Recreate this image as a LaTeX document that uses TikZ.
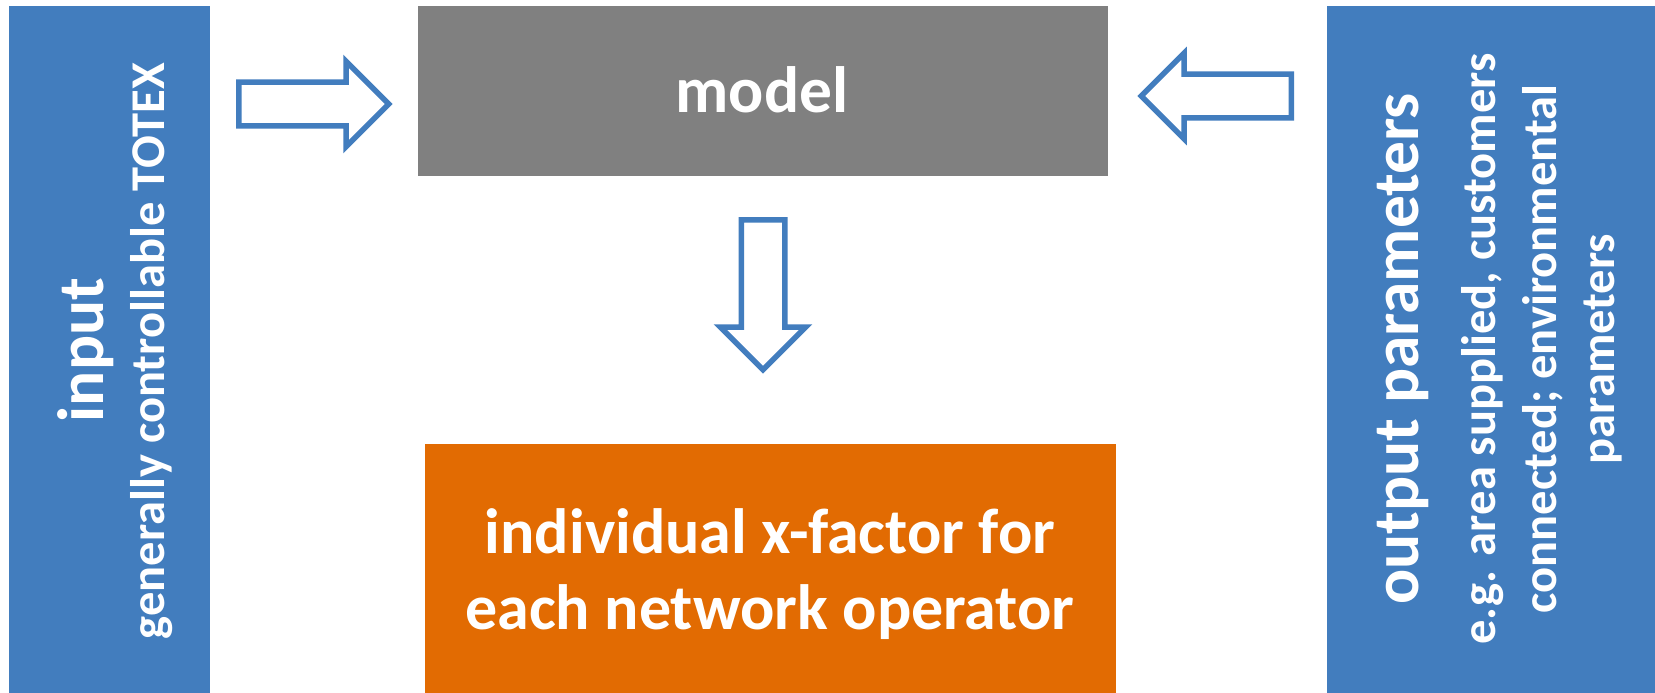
\documentclass[tikz,border=0pt]{standalone}
\usepackage{fontspec}
\setmainfont{Carlito}
\usetikzlibrary{calc,shapes.arrows}
\definecolor{barblue}{RGB}{66,125,190}
\definecolor{modelgrey}{RGB}{128,128,128}
\definecolor{xorange}{RGB}{226,107,2}

\begin{document}
\begin{tikzpicture}[x=1pt,y=-1pt,
    box/.style={inner sep=0pt,outer sep=0pt,anchor=north west},
    txt/.style={text=white,inner sep=0pt,anchor=base},
    bigtxt/.style={txt,font=\fontsize{65.5}{65.5}\selectfont\bfseries},
    midtxt/.style={txt,font=\fontsize{64}{64}\selectfont\bfseries},
    smalltxt/.style={txt,font=\fontsize{48.5}{48.5}\selectfont\bfseries},
    blockarrow/.style={single arrow,draw=barblue,fill=white,line width=5.5pt,
      minimum height=150pt,minimum width=80pt,single arrow head extend=21pt,
      inner sep=19pt,anchor=tail}]
  \useasboundingbox (0,0) rectangle (1655,693);

  % boxes
  \node[box,fill=barblue,minimum width=201pt,minimum height=687pt] (inputbar) at (9,6) {};
  \node[box,fill=modelgrey,minimum width=690pt,minimum height=170pt] (model) at (418,6) {};
  \node[box,fill=xorange,minimum width=691pt,minimum height=249pt] (xfactor) at (425,444) {};
  \node[box,fill=barblue,minimum width=328pt,minimum height=687pt] (outputbar) at (1327,6) {};

  % texts
  \node[bigtxt] (modeltxt) at (762,112) {model};
  \node[midtxt] (xline1) at (770,553) {individual x-factor for};
  \node[midtxt] (xline2) at (770,629) {each network operator};
  \node[bigtxt,rotate=90] (inputtxt) at (103,350) {input};
  \node[smalltxt,rotate=90] (inputsub) at (164,351) {generally controllable TOTEX};
  \node[bigtxt,rotate=90] (outtxt) at (1418,349) {output parameters};
  \node[smalltxt,rotate=90] (outsub1) at (1495,349) {e.g. area supplied, customers};
  \node[smalltxt,rotate=90] (outsub2) at (1556,349) {connected; environmental};
  \node[smalltxt,rotate=90] (outsub3) at (1614,349) {parameters};

  % block arrows, placed by their tails
  \coordinate (intail) at ([xshift=26pt]inputbar.east |- 0,104);
  \coordinate (outtail) at ([xshift=-33pt]outputbar.west |- 0,96);
  \coordinate (downtail) at ([yshift=-41pt]model.south -| 763,0);
  \node[blockarrow] (inarrow) at (intail) {};
  \node[blockarrow,rotate=180] (outarrow) at (outtail) {};
  \node[blockarrow,rotate=-90] (downarrow) at (downtail) {};
\end{tikzpicture}
\end{document}
